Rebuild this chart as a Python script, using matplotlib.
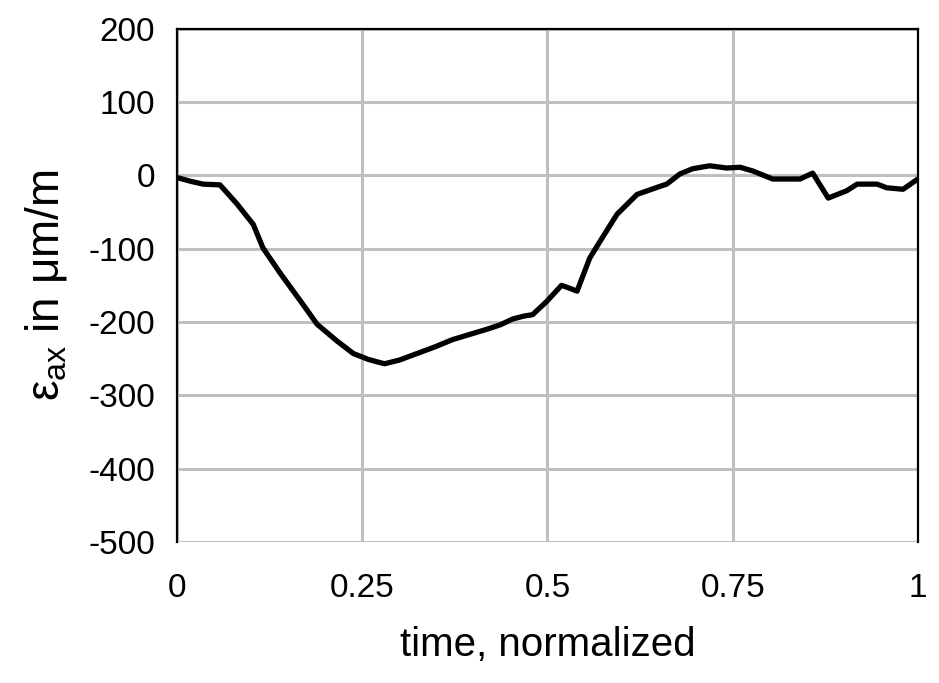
import numpy as np
import matplotlib.pyplot as plt
from matplotlib import font_manager

# strain curve
t_norm = [0.0, 0.018, 0.035, 0.058, 0.081, 0.103, 0.116, 0.139, 0.157, 0.170,
          0.189, 0.216, 0.238, 0.258, 0.280, 0.300, 0.324, 0.348, 0.372, 0.395,
          0.418, 0.436, 0.453, 0.468, 0.480, 0.499, 0.519, 0.530, 0.540, 0.557,
          0.571, 0.594, 0.621, 0.652, 0.661, 0.679, 0.696, 0.719, 0.742, 0.760,
          0.777, 0.804, 0.841, 0.858, 0.879, 0.904, 0.918, 0.945, 0.958, 0.980,
          1.0]
strain = [-3, -8, -12, -13, -39, -67, -99, -133, -158, -176,
          -203, -226, -243, -251, -257, -252, -243, -234, -224, -217,
          -210, -204, -196, -192, -190, -172, -150, -154, -158, -113,
          -90, -53, -26, -15, -12, 2, 9, 13, 10, 11,
          6, -5, -5, 3, -31, -21, -12, -12, -17, -19,
          -5]

x_ticks = [0, 0.25, 0.5, 0.75, 1]
x_tick_labels = ['0', '0.25', '0.5', '0.75', '1']
y_ticks = [-500, -400, -300, -200, -100, 0, 100, 200]

names = {f.name for f in font_manager.fontManager.ttflist}
fam = 'Liberation Sans Narrow' if 'Liberation Sans Narrow' in names else 'Liberation Sans'
plt.rcParams['font.family'] = [fam, 'DejaVu Sans']
plt.rcParams['mathtext.fontset'] = 'custom'
plt.rcParams['mathtext.rm'] = fam
plt.rcParams['axes.unicode_minus'] = False

fig = plt.figure(figsize=(9.39, 6.83), dpi=100)
ax = fig.add_axes([0.1885, 0.2065, 0.789, 0.7515])

ax.plot(t_norm, strain, color='black', linewidth=3.8, solid_joinstyle='round',
        solid_capstyle='round', zorder=3)

ax.set_xlim(0, 1)
ax.set_ylim(-500, 200)
ax.set_xticks(x_ticks)
ax.set_xticklabels(x_tick_labels)
ax.set_yticks(y_ticks)
ax.grid(True, color='#bfbfbf', linewidth=2.2)
ax.tick_params(length=0, labelsize=24)
ax.tick_params(axis='y', pad=16)
ax.tick_params(axis='x', pad=22)

for s in ['left', 'right', 'top']:
    ax.spines[s].set_color('black')
    ax.spines[s].set_linewidth(1.6)
    ax.spines[s].set_zorder(4)
ax.spines['bottom'].set_visible(False)

ax.set_xlabel('time, normalized', fontsize=29, labelpad=16)
ax.set_ylabel(r'$\mathregular{ε_{ax}}$ in μm/m', fontsize=33, labelpad=14)

fig.savefig('out.png', dpi=100)
